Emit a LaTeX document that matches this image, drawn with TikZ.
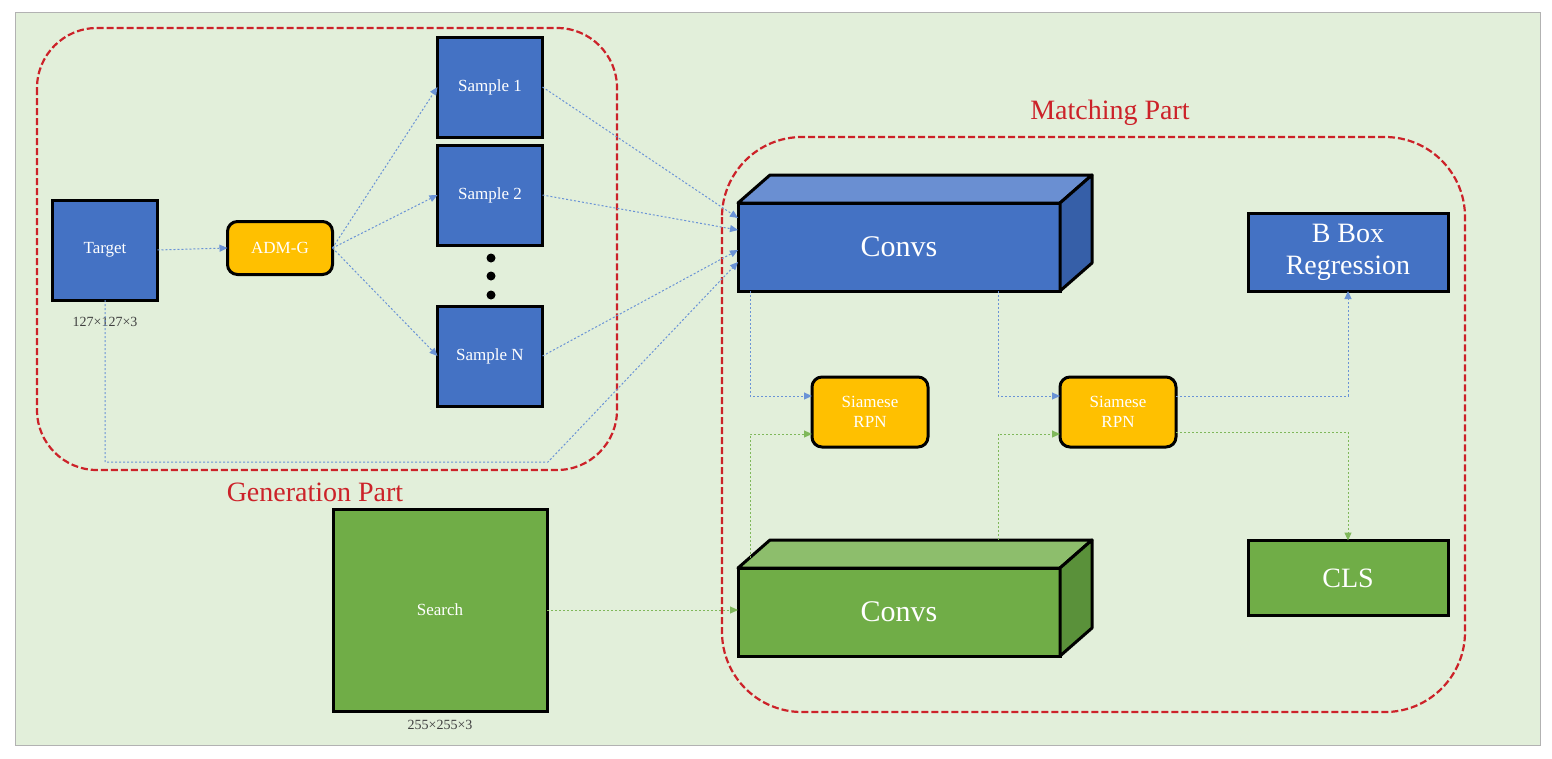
\documentclass[tikz,border=0pt]{standalone}
\usepackage{fontspec}
\setmainfont{Liberation Serif}
\usepackage{xcolor}
\usetikzlibrary{positioning, arrows.meta, calc}

\definecolor{bgc}{HTML}{E2EFDA}
\definecolor{boxblue}{HTML}{4472C4}
\definecolor{topblue}{HTML}{6A8FD2}
\definecolor{sideblue}{HTML}{365FA8}
\definecolor{boxgreen}{HTML}{70AD47}
\definecolor{topgreen}{HTML}{8DBE6C}
\definecolor{sidegreen}{HTML}{5A913A}
\definecolor{rpnyellow}{HTML}{FFC000}
\definecolor{partred}{HTML}{CC2229}
\definecolor{linkblue}{HTML}{6A93D6}
\definecolor{linkgreen}{HTML}{7FB85A}

\begin{document}
\begin{tikzpicture}[
    x=1pt, y=-1pt,
    >={Triangle[length=8pt, width=7pt]},
    imgbox/.style={rectangle, draw=black, line width=3pt, fill=boxblue, text=white, font=\fontsize{17}{19}\selectfont, minimum width=105pt, minimum height=100pt, inner sep=0pt, outer sep=0pt},
    rpnbox/.style={rectangle, draw=black, line width=3pt, fill=rpnyellow, rounded corners=10pt, text=white, font=\fontsize{17}{20}\selectfont, align=center, inner sep=0pt, outer sep=0pt},
    headbox/.style={rectangle, draw=black, line width=3pt, text=white, font=\fontsize{28}{32}\selectfont, align=center, minimum width=200pt, inner sep=0pt, outer sep=0pt},
    cubefront/.style={rectangle, draw=black, line width=3pt, text=white, font=\fontsize{30}{32}\selectfont, minimum width=322pt, minimum height=88pt, inner sep=0pt, outer sep=0pt},
    cubeedge/.style={draw=black, line width=3pt, line join=round},
    partbox/.style={draw=partred, line width=2.2pt, dash pattern=on 7pt off 3pt},
    partlabel/.style={text=partred, font=\fontsize{28}{30}\selectfont},
    dimlabel/.style={text=black!75, font=\fontsize{14}{16}\selectfont, inner sep=1pt},
    bluelink/.style={->, linkblue, line width=1pt, dash pattern=on 2pt off 2pt},
    greenlink/.style={->, linkgreen, line width=1pt, dash pattern=on 2pt off 2pt},
]

% Background
\useasboundingbox (0,0) rectangle (1552,758);
\fill[bgc, draw=black!30, line width=0.8pt] (15,12) rectangle (1540,745);

% Generation part
\draw[partbox, rounded corners=60pt] (37,28) rectangle (617,470);
\node[partlabel] (genlabel) at (315,492) {Generation Part};

\node[imgbox] (target) at (105,250) {Target};
\node[dimlabel, below=16pt of target] (targetdim) {127×127×3};
\node[rpnbox, minimum width=105pt, minimum height=53pt] (admg) at (280,248) {ADM-G};

\node[imgbox] (s1) at (490,87) {Sample 1};
\node[imgbox] (s2) at (490,195) {Sample 2};
\node[imgbox] (sN) at (490,356) {Sample N};
\foreach \y in {258,276,295} \fill (491,\y) circle (4.5pt);

% Search image
\node[imgbox, fill=boxgreen, minimum width=214pt, minimum height=202pt] (search) at (440,610) {Search};
\node[dimlabel, below=8pt of search] (searchdim) {255×255×3};

% Matching part
\draw[partbox, rounded corners=80pt] (722,137) rectangle (1465,712);
\node[partlabel] (matchlabel) at (1110,113) {Matching Part};

% Template branch cube
\node[cubefront, fill=boxblue] (convsT) at (899,247) {Convs};
\draw[cubeedge, fill=topblue] (convsT.north west) -- ++(32,-28) -- ([shift={(32,-28)}]convsT.north east) -- (convsT.north east) -- cycle;
\draw[cubeedge, fill=sideblue] (convsT.north east) -- ++(32,-28) -- ++(0,88) -- (convsT.south east) -- cycle;

% Search branch cube
\node[cubefront, fill=boxgreen] (convsS) at (899,612) {Convs};
\draw[cubeedge, fill=topgreen] (convsS.north west) -- ++(32,-28) -- ([shift={(32,-28)}]convsS.north east) -- (convsS.north east) -- cycle;
\draw[cubeedge, fill=sidegreen] (convsS.north east) -- ++(32,-28) -- ++(0,88) -- (convsS.south east) -- cycle;

\node[rpnbox, minimum width=116pt, minimum height=70pt] (rpn1) at (870,412) {Siamese\\RPN};
\node[rpnbox, minimum width=116pt, minimum height=70pt] (rpn2) at (1118,412) {Siamese\\RPN};

\node[headbox, fill=boxblue, minimum height=78pt] (bbox) at (1348,252) {B Box\\Regression};
\node[headbox, fill=boxgreen, minimum height=75pt] (cls) at (1348,578) {CLS};

% Generation links
\draw[bluelink] (target.east) -- (admg.west);
\foreach \s in {s1, s2, sN} {
    \draw[bluelink] (admg.east) -- (\s.west);
}
\foreach \s/\dy in {s1/29, s2/17, sN/-3} {
    \draw[bluelink] (\s.east) -- ([yshift=\dy pt]convsT.west);
}
\coordinate (tbend) at (548,462);
\draw[bluelink] (target.south) |- (tbend) -- ([yshift=-15pt]convsT.west);

% Matching links
\draw[greenlink] (search.east) -- (search.east -| convsS.west);
\draw[bluelink] ([xshift=12pt]convsT.south west) |- ([yshift=16pt]rpn1.west);
\draw[bluelink] ([xshift=99pt]convsT.south) |- ([yshift=16pt]rpn2.west);
\draw[greenlink] ([xshift=12pt,yshift=10pt]convsS.north west) |- ([yshift=-22pt]rpn1.west);
\draw[greenlink] ([shift={(99,-28)}]convsS.north) |- ([yshift=-22pt]rpn2.west);
\draw[bluelink] ([yshift=16pt]rpn2.east) -| (bbox.south);
\draw[greenlink] ([yshift=-20pt]rpn2.east) -| (cls.north);

\end{tikzpicture}
\end{document}
